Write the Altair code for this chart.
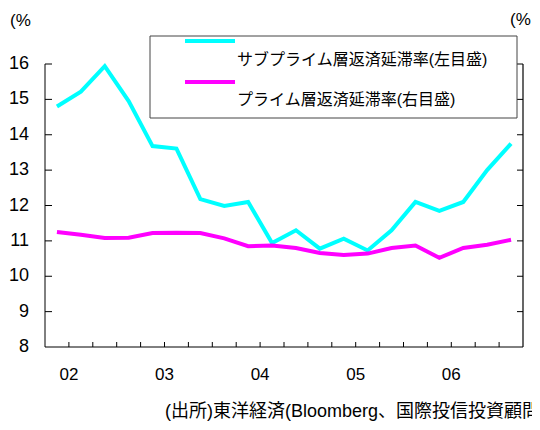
import altair as alt
import pandas as pd

# ---- data ----
quarters = ["01Q4", "02Q1", "02Q2", "02Q3", "02Q4", "03Q1", "03Q2", "03Q3", "03Q4",
            "04Q1", "04Q2", "04Q3", "04Q4", "05Q1", "05Q2", "05Q3", "05Q4",
            "06Q1", "06Q2", "06Q3"]
subprime = [14.8, 15.22, 15.94, 14.95, 13.68, 13.61, 12.18, 11.99, 12.1, 10.94,
            11.3, 10.78, 11.06, 10.73, 11.3, 12.1, 11.85, 12.1, 13.0, 13.75]
prime = [11.25, 11.17, 11.08, 11.09, 11.22, 11.23, 11.22, 11.07, 10.85, 10.87,
         10.8, 10.66, 10.6, 10.64, 10.8, 10.87, 10.52, 10.8, 10.89, 11.03]
year_labels = ["02", "03", "04", "05", "06"]
y_ticks = [9, 10, 11, 12, 13, 14, 15, 16]
y_labels = [8, 9, 10, 11, 12, 13, 14, 15, 16]

name_sub = "サブプライム層返済延滞率(左目盛)"
name_prime = "プライム層返済延滞率(右目盛)"
source_text = "(出所)東洋経済(Bloomberg、国際投信投資顧問)"

FONT = "Liberation Sans, Arial, Noto Sans CJK JP"
W, H = 478, 283

rows = []
for i, q in enumerate(quarters):
    rows.append({"quarter": q, "t": i + 0.5, "value": subprime[i], "series": name_sub})
    rows.append({"quarter": q, "t": i + 0.5, "value": prime[i], "series": name_prime})
df = pd.DataFrame(rows)

year_df = pd.DataFrame({"label": year_labels,
                        "pos": [quarters.index(y + "Q1") for y in year_labels]})
xtick_df = pd.DataFrame({"pos": list(range(1, len(quarters)))})
ytick_df = pd.DataFrame({"v": y_ticks})
ylab_df = pd.DataFrame({"v": y_labels, "txt": [str(v) for v in y_labels]})
one = pd.DataFrame({"a": [0]})

xscale = alt.Scale(domain=[0, len(quarters)], nice=False, zero=False)
yscale = alt.Scale(domain=[8, 16], nice=False, zero=False)

lines = alt.Chart(df).mark_line(strokeWidth=4, strokeJoin="miter").encode(
    x=alt.X("t:Q", scale=xscale, axis=None),
    y=alt.Y("value:Q", scale=yscale, axis=None),
    color=alt.Color("series:N",
                    scale=alt.Scale(domain=[name_sub, name_prime],
                                    range=["#00FFFF", "#FF00FF"]),
                    legend=None),
)

# axis lines
left_axis = alt.Chart(one).mark_rule(color="#000", strokeWidth=1).encode(
    x=alt.value(0), y=alt.value(0), y2=alt.value(H))
right_axis = alt.Chart(one).mark_rule(color="#000", strokeWidth=1.2).encode(
    x=alt.value(W), y=alt.value(0), y2=alt.value(H))
bottom_axis = alt.Chart(one).mark_rule(color="#000", strokeWidth=1).encode(
    x=alt.value(0), x2=alt.value(W), y=alt.value(H))

# inward ticks
left_ticks = alt.Chart(ytick_df).mark_rule(color="#000", strokeWidth=1).encode(
    y=alt.Y("v:Q", scale=yscale, axis=None), x=alt.value(0), x2=alt.value(7))
right_ticks = alt.Chart(ytick_df).mark_rule(color="#000", strokeWidth=1).encode(
    y=alt.Y("v:Q", scale=yscale, axis=None), x=alt.value(W - 6), x2=alt.value(W))
bottom_ticks = alt.Chart(xtick_df).mark_rule(color="#000", strokeWidth=1).encode(
    x=alt.X("pos:Q", scale=xscale, axis=None), y=alt.value(H - 5), y2=alt.value(H))

# labels
y_text = alt.Chart(ylab_df).mark_text(
    font=FONT, fontSize=18, color="#000", align="right", baseline="middle"
).encode(y=alt.Y("v:Q", scale=yscale, axis=None), x=alt.value(-16), text="txt:N")
year_text = alt.Chart(year_df).mark_text(
    font=FONT, fontSize=17, color="#000", baseline="middle", align="center"
).encode(x=alt.X("pos:Q", scale=xscale, axis=None), y=alt.value(311), text="label:N")

# legend box
leg = pd.DataFrame({"series": [name_sub, name_prime],
                    "color": ["#00FFFF", "#FF00FF"],
                    "ly": [-23, 18], "ty": [-4, 36]})
legend_box = alt.Chart(one).mark_rect(
    fill="white", stroke="#444", strokeWidth=1
).encode(x=alt.value(105), x2=alt.value(472), y=alt.value(-28), y2=alt.value(54))
legend_lines = alt.Chart(leg).mark_rule(strokeWidth=4).encode(
    x=alt.value(140), x2=alt.value(190), y=alt.Y("ly:Q", scale=None, axis=None),
    color=alt.Color("color:N", scale=None))
legend_text = alt.Chart(leg).mark_text(
    font=FONT, fontSize=16, color="#000", align="left", baseline="middle"
).encode(x=alt.value(192), y=alt.Y("ty:Q", scale=None, axis=None), text="series:N")

pct_left = alt.Chart(pd.DataFrame({"t": ["(%"]})).mark_text(
    font=FONT, fontSize=17, color="#000", align="left", baseline="middle"
).encode(x=alt.value(-35), y=alt.value(-43), text="t:N")
pct_right = alt.Chart(pd.DataFrame({"t": ["(%"]})).mark_text(
    font=FONT, fontSize=17, color="#000", align="left", baseline="middle"
).encode(x=alt.value(465), y=alt.value(-44), text="t:N")
source = alt.Chart(pd.DataFrame({"t": [source_text]})).mark_text(
    font=FONT, fontSize=18, color="#000", align="left", baseline="middle"
).encode(x=alt.value(120), y=alt.value(348), text="t:N")

chart = alt.layer(
    lines, left_axis, right_axis, bottom_axis, left_ticks, right_ticks, bottom_ticks,
    y_text, year_text, legend_box, legend_lines, legend_text,
    pct_left, pct_right, source
).resolve_scale(color="independent").properties(
    width=W, height=H,
    autosize=alt.AutoSizeParams(type="none"),
    padding={"left": 37, "top": 56, "right": 9, "bottom": 75},
    background="white",
).configure_view(stroke=None)

chart.save("out.html", embed_options={"renderer": "svg", "actions": False})
